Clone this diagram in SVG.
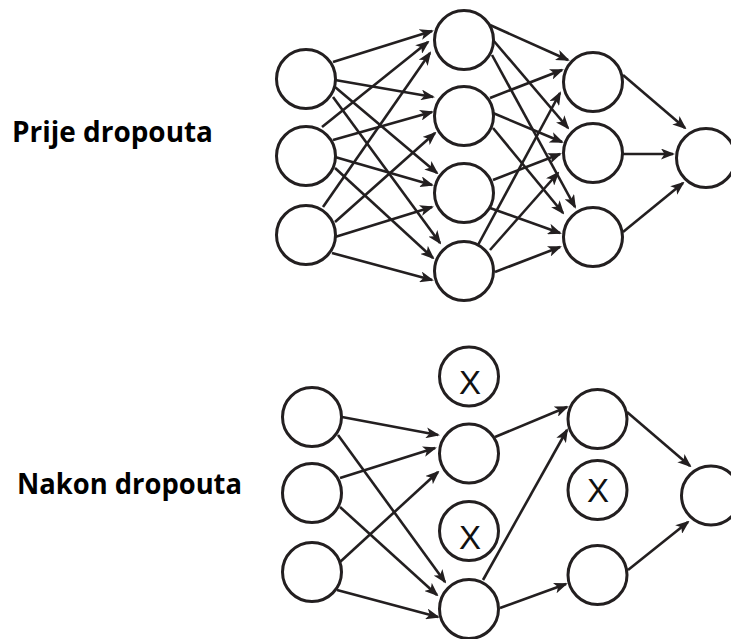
<svg xmlns="http://www.w3.org/2000/svg" width="731" height="639" viewBox="0 0 731 639">
<defs>
<marker id="ah" markerUnits="userSpaceOnUse" markerWidth="14" markerHeight="11" refX="12" refY="5.5" orient="auto">
<path d="M0,0 L14,5.5 L0,11 L3.5,5.5 Z" fill="#231f20"/>
</marker>
</defs>
<style>
.n{fill:#fff;stroke:#231f20;stroke-width:3}
.e line{stroke:#231f20;stroke-width:2.6;marker-end:url(#ah)}
.lbl{font-family:"Open Sans","Liberation Sans",sans-serif;font-weight:bold;font-size:29px;fill:#000}
.x{font-family:"Liberation Sans",Arial,sans-serif;font-size:33px;fill:#111;text-anchor:middle}
</style>
<rect width="731" height="639" fill="#fff"/>
<text class="lbl" x="12" y="142" textLength="201" lengthAdjust="spacingAndGlyphs">Prije dropouta</text>
<text class="lbl" x="17" y="494" textLength="225" lengthAdjust="spacingAndGlyphs">Nakon dropouta</text>
<g id="connectors" class="e">
<line x1="333" y1="62" x2="432" y2="31"/>
<line x1="322" y1="127" x2="428" y2="42"/>
<line x1="323" y1="207" x2="430" y2="53"/>
<line x1="335" y1="80" x2="433" y2="97"/>
<line x1="333" y1="140" x2="432" y2="112"/>
<line x1="335" y1="222" x2="435" y2="133"/>
<line x1="335" y1="87" x2="437" y2="173"/>
<line x1="335" y1="157" x2="432" y2="185"/>
<line x1="335" y1="237" x2="432" y2="207"/>
<line x1="333" y1="97" x2="440" y2="243"/>
<line x1="335" y1="168" x2="433" y2="258"/>
<line x1="332" y1="253" x2="432" y2="280"/>
<line x1="490" y1="25" x2="568" y2="60"/>
<line x1="493" y1="40" x2="568" y2="128"/>
<line x1="492" y1="55" x2="575" y2="207"/>
<line x1="490" y1="98" x2="562" y2="70"/>
<line x1="493" y1="113" x2="562" y2="142"/>
<line x1="493" y1="128" x2="563" y2="213"/>
<line x1="493" y1="180" x2="560" y2="154"/>
<line x1="490" y1="208" x2="560" y2="233"/>
<line x1="478" y1="245" x2="560" y2="93"/>
<line x1="490" y1="250" x2="558" y2="173"/>
<line x1="495" y1="272" x2="560" y2="247"/>
<line x1="623" y1="75" x2="685" y2="128"/>
<line x1="623" y1="154" x2="673" y2="154"/>
<line x1="623" y1="232" x2="683" y2="183"/>
<line x1="342" y1="417" x2="438" y2="435"/>
<line x1="338" y1="435" x2="445" y2="582"/>
<line x1="340" y1="478" x2="435" y2="448"/>
<line x1="340" y1="507" x2="437" y2="595"/>
<line x1="340" y1="562" x2="438" y2="472"/>
<line x1="337" y1="590" x2="438" y2="617"/>
<line x1="495" y1="437" x2="567" y2="407"/>
<line x1="483" y1="580" x2="567" y2="430"/>
<line x1="500" y1="608" x2="566" y2="584"/>
<line x1="627" y1="412" x2="690" y2="466"/>
<line x1="628" y1="570" x2="688" y2="522"/>
</g>
<g id="t_in1"><circle class="n" cx="306" cy="79" r="29.5"/></g>
<g id="t_in2"><circle class="n" cx="306" cy="156" r="29.5"/></g>
<g id="t_in3"><circle class="n" cx="306" cy="235" r="29.5"/></g>
<g id="t_h1"><circle class="n" cx="464" cy="40" r="29.5"/></g>
<g id="t_h2"><circle class="n" cx="464" cy="116" r="29.5"/></g>
<g id="t_h3"><circle class="n" cx="464" cy="193" r="29.5"/></g>
<g id="t_h4"><circle class="n" cx="464" cy="271" r="29.5"/></g>
<g id="t_g1"><circle class="n" cx="593" cy="82" r="29.5"/></g>
<g id="t_g2"><circle class="n" cx="593" cy="153" r="29.5"/></g>
<g id="t_g3"><circle class="n" cx="593" cy="237" r="29.5"/></g>
<g id="t_out"><circle class="n" cx="706" cy="158" r="29.5"/></g>
<g id="b_in1"><circle class="n" cx="312" cy="417" r="29.5"/></g>
<g id="b_in2"><circle class="n" cx="312" cy="493" r="29.5"/></g>
<g id="b_in3"><circle class="n" cx="312" cy="572" r="29.5"/></g>
<g id="b_hx1"><circle class="n" cx="469" cy="376.5" r="29.5"/><text class="x" x="470" y="394">X</text></g>
<g id="b_h2"><circle class="n" cx="469" cy="453.5" r="29.5"/></g>
<g id="b_hx3"><circle class="n" cx="469" cy="531" r="29.5"/><text class="x" x="470" y="548.5">X</text></g>
<g id="b_h4"><circle class="n" cx="469" cy="609" r="29.5"/></g>
<g id="b_g1"><circle class="n" cx="597.5" cy="419" r="29.5"/></g>
<g id="b_gx2"><circle class="n" cx="597.5" cy="490" r="29.5"/><text class="x" x="598" y="502">X</text></g>
<g id="b_g3"><circle class="n" cx="597.5" cy="575" r="29.5"/></g>
<g id="b_out"><circle class="n" cx="711" cy="495.5" r="29.5"/></g>
</svg>
